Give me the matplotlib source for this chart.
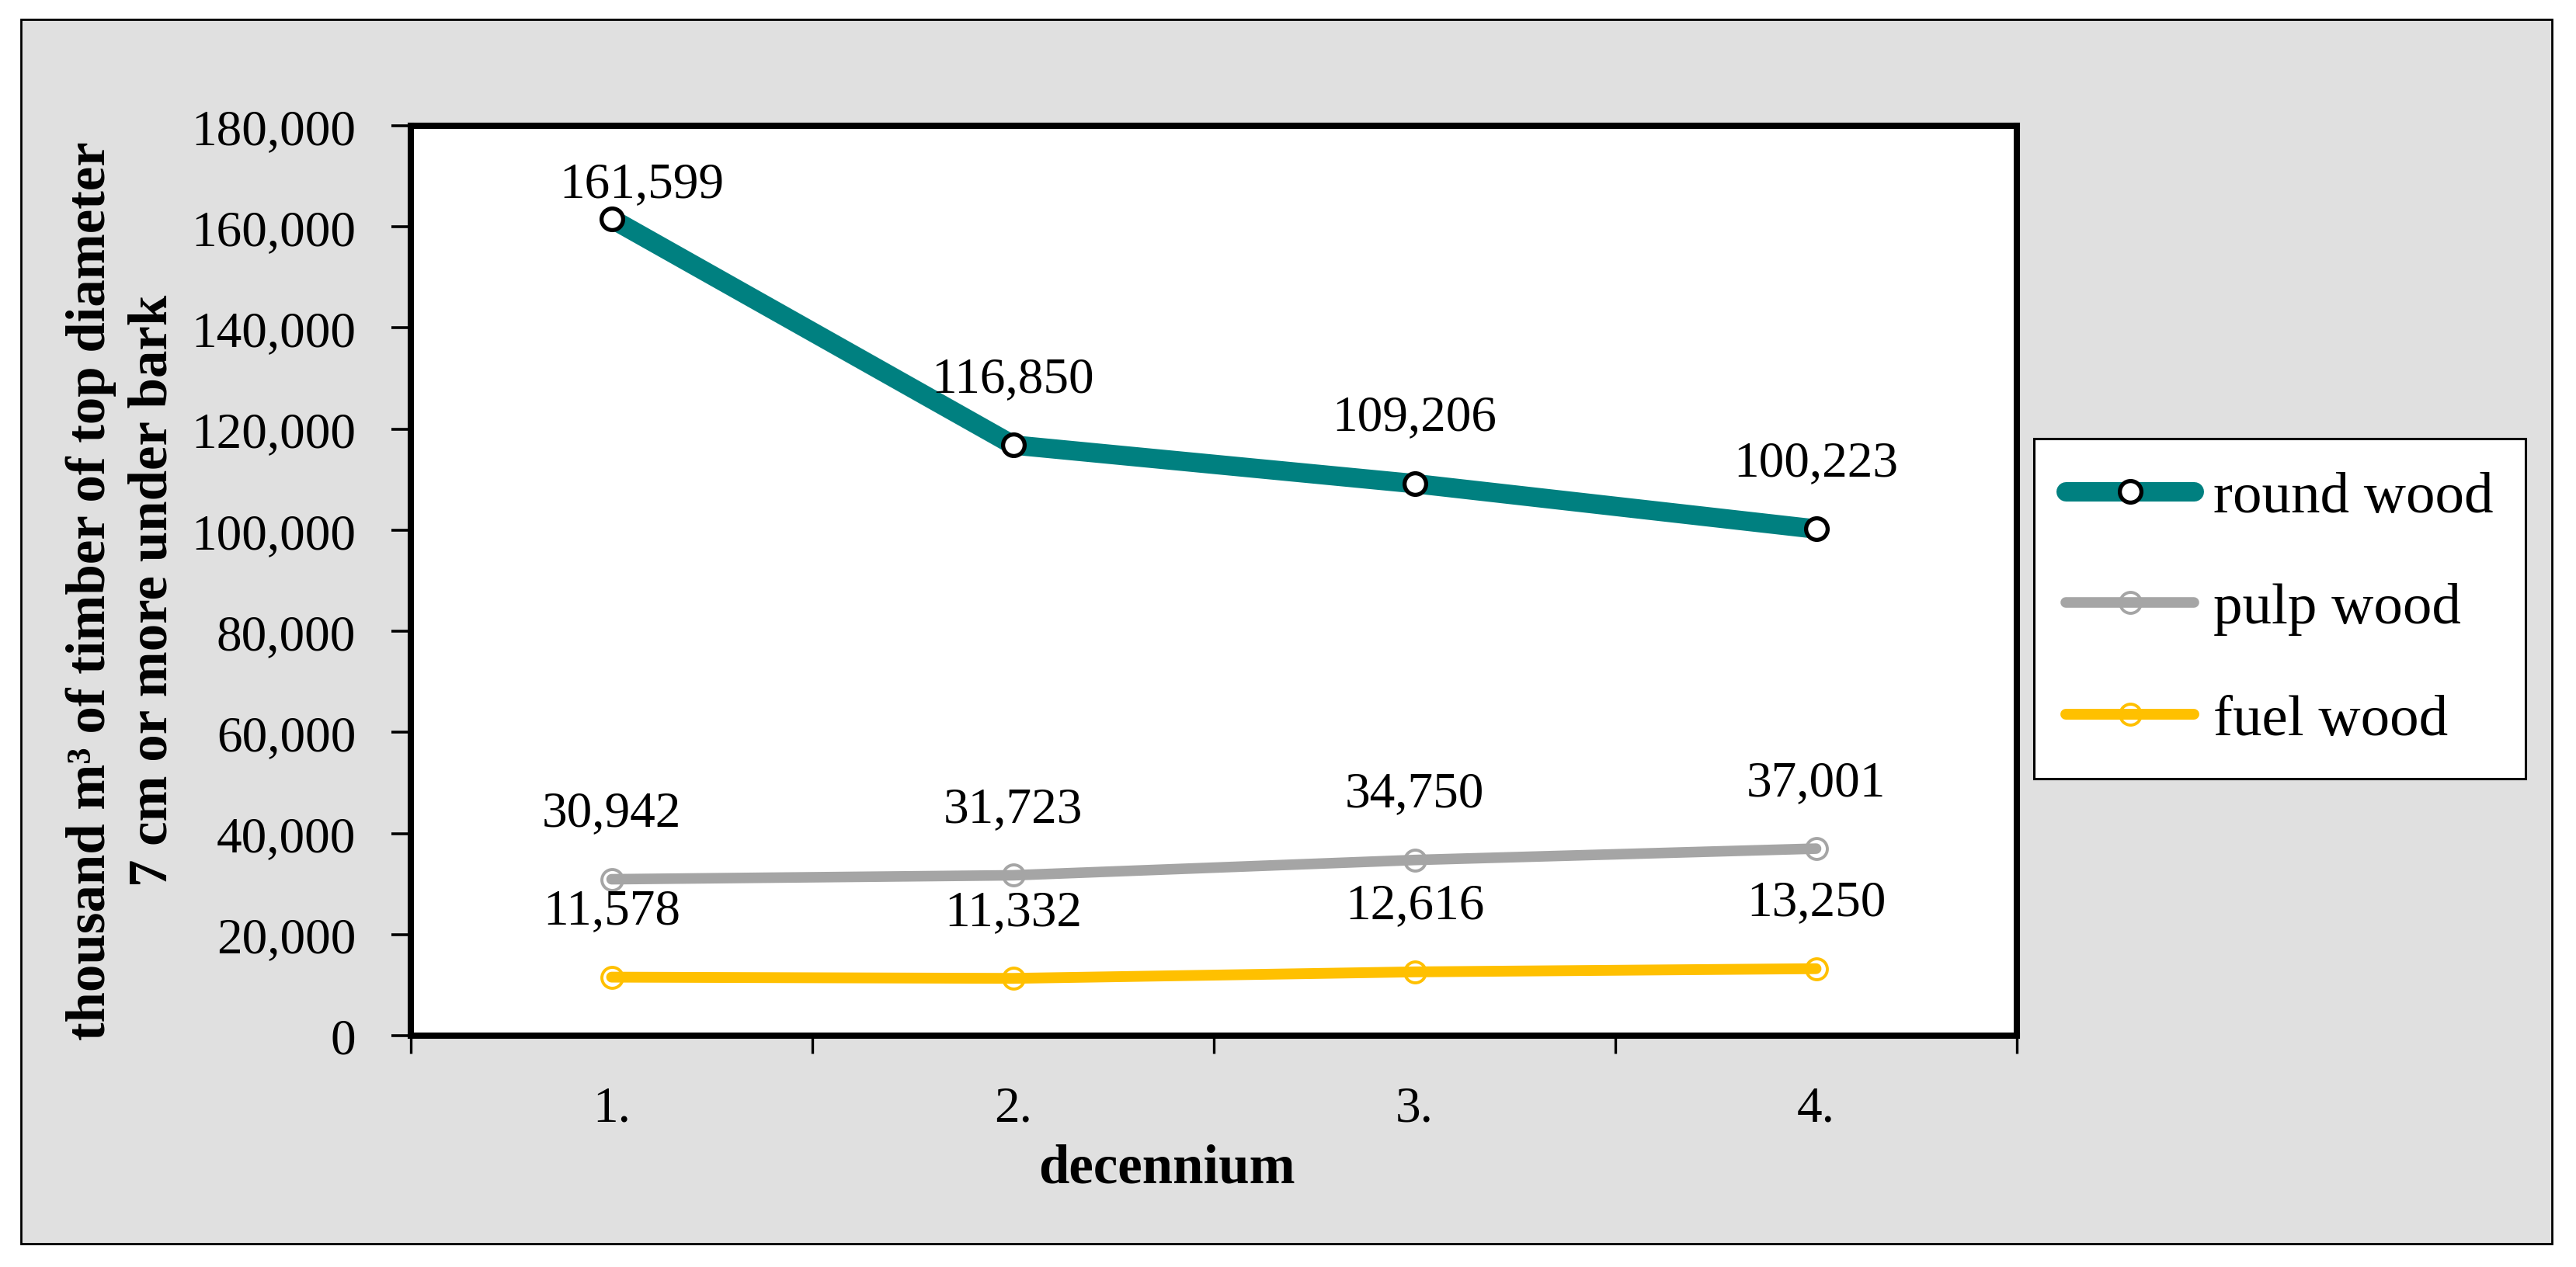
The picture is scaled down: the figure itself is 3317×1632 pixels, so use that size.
import matplotlib
matplotlib.use('Agg')
import matplotlib.pyplot as plt
from matplotlib.patches import Rectangle
from matplotlib.ticker import FuncFormatter
from matplotlib.legend_handler import HandlerTuple
import numpy as np

plt.rcParams['font.family'] = ['Liberation Serif', 'DejaVu Serif']

# data
decennium = ['1.', '2.', '3.', '4.']
round_wood = [161599, 116850, 109206, 100223]
pulp_wood = [30942, 31723, 34750, 37001]
fuel_wood = [11578, 11332, 12616, 13250]

series_names = ['round wood', 'pulp wood', 'fuel wood']
series_values = [round_wood, pulp_wood, fuel_wood]

# styles
colors = ['#008080', '#A5A5A5', '#FFC000']
line_widths = [9, 4.9, 5]
marker_edges = ['black', '#A5A5A5', '#FFC000']
# data label offsets (points), first round wood label was nudged in the original
label_offsets = [[(14, 10.5), (0, 25), (0, 25), (0, 25)],
                 [(0, 25)] * 4,
                 [(0, 25)] * 4]

fs = 23.5      # numbers
fs_txt = 25.5  # axis titles (Palatino in the original is wider than Liberation Serif)
fs_leg = 27
W, H = 3317, 1633
fig = plt.figure(figsize=(W / 200, H / 200), dpi=200)
fig.patch.set_facecolor('white')

# grey chart area with thin border
bg = Rectangle((27 / W, 1 - 1603 / H), (3286 - 27) / W, (1603 - 26) / H,
               transform=fig.transFigure, facecolor='#E0E0E0',
               edgecolor='black', linewidth=1.0, zorder=-10)
fig.add_artist(bg)

ax = fig.add_axes([529 / W, 1 - 1335 / H, (2597 - 529) / W, (1335 - 163) / H])
ax.set_facecolor('white')

x = np.arange(1, len(decennium) + 1)
handles = []
for name, vals, c, lw, mec, offs in zip(series_names, series_values, colors,
                                        line_widths, marker_edges, label_offsets):
    if name == 'round wood':
        ln, = ax.plot(x, vals, color=c, lw=lw, marker='o', ms=10, mfc='white',
                      mec=mec, mew=1.9, solid_capstyle='round', zorder=3)
        handles.append(ln)
    else:
        mk, = ax.plot(x, vals, ls='none', marker='o', ms=9.7, mfc='white',
                      mec=mec, mew=1.4, zorder=3)
        ln, = ax.plot(x, vals, color=c, lw=lw, solid_capstyle='round', zorder=4)
        handles.append((mk, ln))
    for xi, v, (dx, dy) in zip(x, vals, offs):
        ax.annotate(f'{v:,}', (xi, v), xytext=(dx, dy), textcoords='offset points',
                    ha='center', va='baseline', fontsize=fs, zorder=5)

ax.set_xlim(0.5, 4.5)
ax.set_ylim(0, 180000)
ax.set_yticks(np.arange(0, 180001, 20000))
ax.yaxis.set_major_formatter(FuncFormatter(lambda v, p: f'{v:,.0f}'))
ax.set_xticks(x)
ax.set_xticklabels(decennium)
ax.set_xticks(np.arange(0.5, 4.6, 1), minor=True)
ax.tick_params(axis='x', which='major', length=0, pad=23, labelsize=fs)
ax.tick_params(axis='x', which='minor', length=8.3, width=1.2, direction='out')
ax.tick_params(axis='y', length=9, width=1.3, pad=16.5, labelsize=fs)
for sp in ax.spines.values():
    sp.set_linewidth(2.9)

fig.text(157 / W, 1 - 761 / H, 'thousand m³ of timber of top diameter\n7 cm or more under bark',
         rotation=90, ha='center', va='center', fontsize=fs_txt, fontweight='bold',
         linespacing=1.3, multialignment='center')
fig.text(1502 / W, 1 - 1474 / H, 'decennium', ha='center', va='top',
         fontsize=fs_txt, fontweight='bold')

leg = ax.legend(handles, series_names, handler_map={tuple: HandlerTuple(ndivide=1)},
                loc='upper left', bbox_to_anchor=(2619 / W, 1 - 566 / H),
                bbox_transform=fig.transFigure, fontsize=fs_leg, frameon=True,
                fancybox=False, edgecolor='black', framealpha=1, borderpad=0.55,
                labelspacing=1.0, handlelength=2.2, handletextpad=0.33,
                borderaxespad=0)
leg.get_frame().set_linewidth(1.1)

fig.savefig('out.png', dpi=200, facecolor='white')
